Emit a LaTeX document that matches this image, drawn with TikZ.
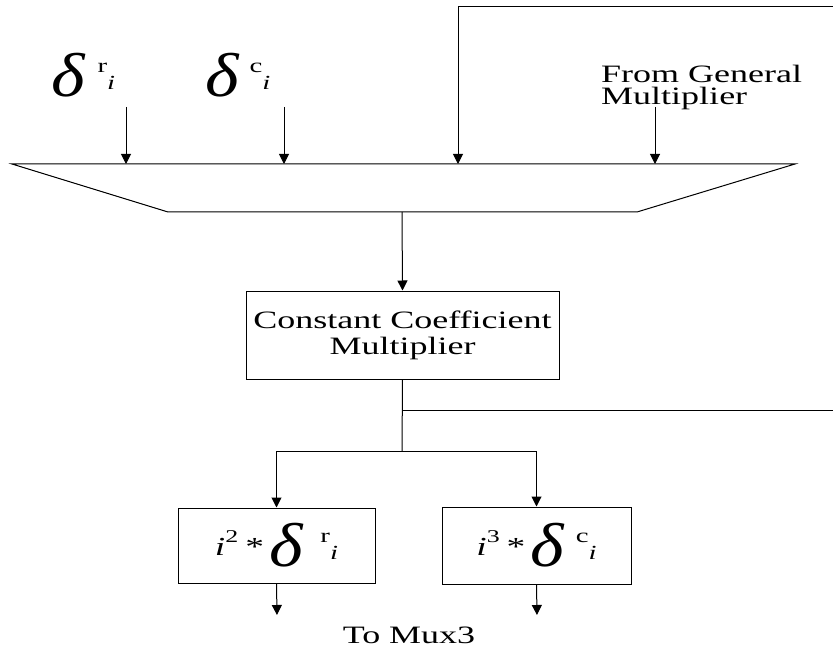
\documentclass[tikz,border=0pt]{standalone}
\usepackage{fontspec}
\setmainfont{Liberation Serif}
\usepackage{graphicx}
\usetikzlibrary{arrows.meta, positioning}

% the reference is set wide: stretch every text 1.44 times
\newcommand\wide[1]{\scalebox{1.44}[1]{#1}}
% big delta with a letter above and i below it, #1 = gap after delta
\newcommand\dvar[2]{%
  \scalebox{1.16}[1]{\fontsize{62}{62}\selectfont\itshape δ}\hspace{#1}%
  \raisebox{24pt}{\wide{\fontsize{20}{20}\selectfont #2}}%
  \raisebox{7pt}{\wide{\fontsize{20}{20}\selectfont\itshape i}}}
% i to a power times delta
\newcommand\ipow[3]{%
  \raisebox{11pt}{\wide{\fontsize{26}{26}\selectfont\itshape i}%
  \raisebox{13pt}{\wide{\fontsize{18}{18}\selectfont #1}}\hspace{7pt}%
  \wide{\fontsize{26}{26}\selectfont *}}\hspace{5pt}\dvar{#3}{#2}}

\begin{document}
\begin{tikzpicture}[
  x=1pt, y=-1pt,
  box/.style={rectangle, draw, line width=1pt, inner sep=0pt, align=center,
    font=\fontsize{25}{26}\selectfont},
  lbl/.style={inner sep=0pt},
  wire/.style={line width=1pt},
  arr/.style={-{Triangle[length=10pt,width=10pt]}, line width=1pt}
]
\useasboundingbox (0,0) rectangle (833,647);

% multiplexer
\draw[wire] (12,164) -- (795,164) -- (637,212) -- (168,212) -- cycle;
\coordinate (muxr) at (126,164);
\coordinate (muxc) at (284,164);
\coordinate (muxf) at (458,164);
\coordinate (muxg) at (655,164);
\coordinate (muxout) at (402,212);

% inputs
\node[lbl, anchor=base west] (dr) at (51,97) {\dvar{13pt}{r}};
\node[lbl, anchor=base west] (dc) at (205,97) {\dvar{11pt}{c}};
\node[lbl, anchor=north west, align=left,
  font=\fontsize{25}{22}\selectfont] (gen) at (601,65)
  {\wide{From General}\\\wide{Multiplier}};
\coordinate (inr) at (126,107);
\coordinate (inc) at (284,107);
\coordinate (ing) at (655,107);
\coordinate (fbtop) at (833,7);
\coordinate (fbcorner) at (458,7);

\draw[arr] (inr) -- (muxr);
\draw[arr] (inc) -- (muxc);
\draw[arr] (ing) -- (muxg);
\draw[arr] (fbtop) -- (fbcorner) -- (muxf);

% constant multiplier
\node[box, minimum width=313pt, minimum height=88pt] (ccm) at (402.5,335)
  {\wide{Constant Coefficient}\\\wide{Multiplier}};
\draw[arr] (muxout) -- (ccm.north);

% outputs
\node[box, minimum width=197pt, minimum height=75pt] (outr) at (276.5,545.5)
  {\ipow{2}{r}{18pt}};
\node[box, minimum width=189pt, minimum height=77pt] (outc) at (536.5,545.5)
  {\ipow{3}{c}{12pt}};

\coordinate (split) at (402,451);
\coordinate (tap) at (402,410);
\coordinate (fbout) at (833,410);
\draw[wire] (ccm.south) -- (split);
\draw[wire] (tap) -- (fbout);
\draw[arr] (split) -| (outr.north);
\draw[arr] (split) -| (outc.north);

\node[lbl, anchor=base, font=\fontsize{25}{25}\selectfont] (mux3) at (409,643)
  {\wide{To Mux3}};
\coordinate (endr) at (277,615);
\coordinate (endc) at (537,615);
\draw[arr] (outr.south) -- (endr);
\draw[arr] (outc.south) -- (endc);
\end{tikzpicture}
\end{document}
